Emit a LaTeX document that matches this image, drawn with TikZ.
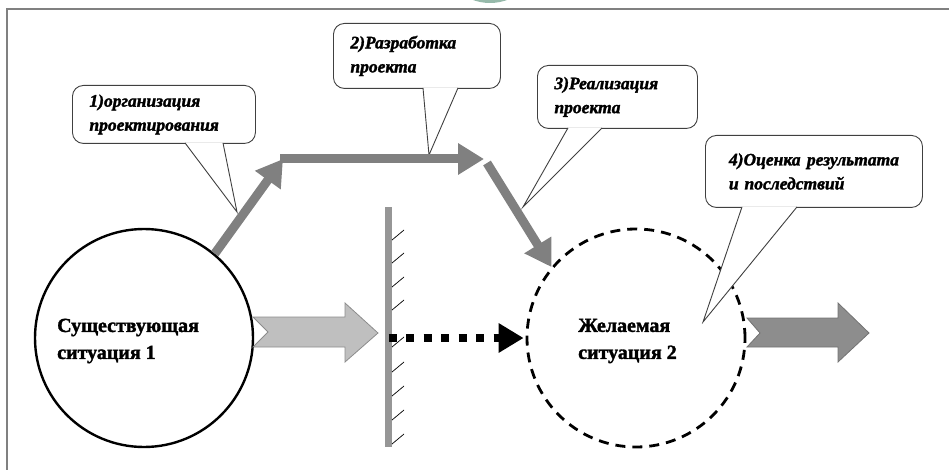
\documentclass[tikz,border=0pt]{standalone}
\usepackage{fontspec}
\setmainfont{Liberation Serif}[BoldFeatures={FakeBold=1.6},BoldItalicFeatures={FakeBold=1.8}]
\usetikzlibrary{arrows.meta,calc}
\definecolor{logo}{RGB}{150,185,170}
\definecolor{arrowgray}{RGB}{128,128,128}
\definecolor{wallgray}{RGB}{150,150,150}

\begin{document}
\begin{tikzpicture}[
    x=1pt, y=-1pt,
    state node/.style={circle,draw=black,line width=2.4pt,minimum size=218pt,inner sep=0pt},
    state text/.style={anchor=west,align=left,inner sep=0pt,
      font=\fontsize{20}{27}\selectfont\bfseries},
    note node/.style={draw=black!75,line width=0.9pt,rounded corners=11pt,fill=white,
      anchor=north west,inner xsep=17pt,inner ysep=0pt,align=left,
      font=\fontsize{17.5}{24}\selectfont\bfseries\itshape},
    note tail/.style={draw=black!75,line width=0.9pt,fill=white},
    step arrow/.style={draw=arrowgray,line width=9pt,-{Triangle[length=26pt,width=30pt]}},
    dot arrow/.style={draw=black,line width=8pt,dash pattern=on 8pt off 9.5pt,
      -{Triangle[length=25pt,width=28pt]}},
    hatch/.style={draw=black,line width=0.7pt}
    ]
    \useasboundingbox (0,0) rectangle (949,470);

    % frame and logo
    \fill[logo] (490,-46.7) circle[radius=49.7];
    \draw[gray,line width=1.5pt] (7,470) -- (7,9) -- (949,9);

    % situations
    \node[state node] (1) at (144,338) {};
    \node[state node,dashed,line width=2.8pt,dash pattern=on 10pt off 7pt] (2) at (636,338) {};
    \node[state text] (t1) at (57,341) {Существующая\\ситуация 1};
    \node[state text] (t2) at (578,341) {Желаемая\\ситуация 2};

    % wall
    \node[fill=wallgray,minimum width=7pt,minimum height=240pt,inner sep=0pt] (w) at (388.5,327) {};
    \foreach \y in {240,263,287,310,347,372,396,420,444}
      \draw[hatch] (392,\y) -- ++(12,-10);

    % block arrows
    \draw[draw=black!45,fill=black!25,line width=0.8pt]
      (253,317) -- (345,317) -- (345,303) -- (378,333) -- (345,362)
      -- (345,347) -- (253,347) -- (268,332) -- cycle;
    \draw[draw=black!55,fill=arrowgray!90,line width=0.8pt]
      (747,318) -- (838,318) -- (838,303) -- (869,333) -- (838,362)
      -- (838,347) -- (747,347) -- (760,333) -- cycle;

    % callouts
    \node[note node,text width=149pt,minimum width=183pt,minimum height=58pt] (c1) at (72,85)
      {1)организация\\проектирования};
    \node[note node,text width=133pt,minimum width=167pt,minimum height=65pt] (c2) at (333,23)
      {2)Разработка\\проекта};
    \node[note node,text width=126pt,minimum width=160pt,minimum height=63pt] (c3) at (537,65)
      {3)Реализация\\проекта};
    \node[note node,text width=170pt,minimum width=217pt,minimum height=72pt,inner xsep=20pt] (c4) at (705,135)
      {4)Оценка\hfill результата\\и последствий};

    \coordinate (c1 tip) at (237,212);
    \coordinate (c2 tip) at (429,155);
    \coordinate (c3 tip) at (523,207);
    \coordinate (c4 tip) at (703,322);
    \draw[note tail] ($(c1.south west)+(113,-1)$) -- (c1 tip) -- ($(c1.south west)+(151,-1)$);
    \draw[note tail] ($(c2.south west)+(90,-1)$) -- (c2 tip) -- ($(c2.south west)+(125,-1)$);
    \draw[note tail] ($(c3.south west)+(31,-1)$) -- (c3 tip) -- ($(c3.south west)+(65,-1)$);
    \draw[note tail] ($(c4.south west)+(37,-1)$) -- (c4 tip) -- ($(c4.south west)+(92,-1)$);

    % path of the project
    \coordinate (p1) at (283,159);
    \coordinate (p2) at (280,159);
    \coordinate (p3) at (484,159);
    \coordinate (p4) at (487,163);
    \draw[step arrow] (1.50) -- (p1);
    \draw[step arrow] (p2) -- (p3);
    \draw[step arrow] (p4) -- (2.140);
    \draw[dot arrow] (w.center |- 2.west) -- ([xshift=-2pt]2.west);
  \end{tikzpicture}
\end{document}
